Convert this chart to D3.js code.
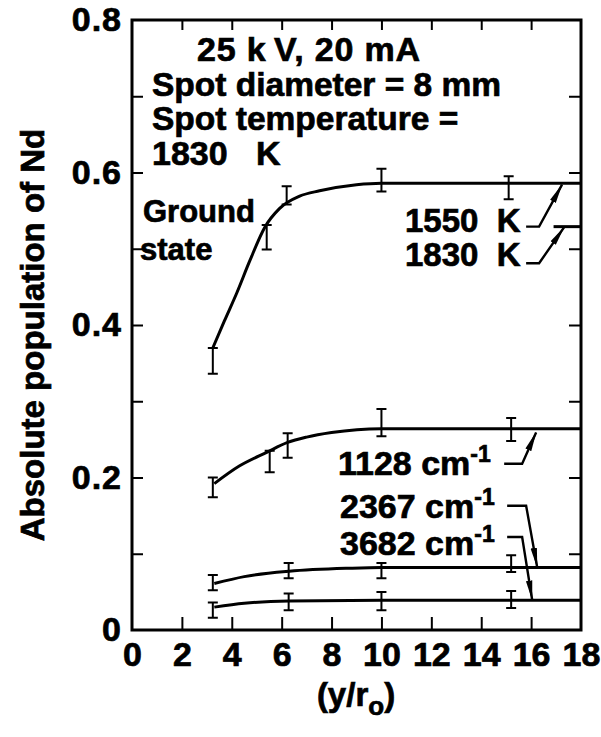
<!DOCTYPE html>
<html>
<head>
<meta charset="utf-8">
<script src="https://cdn.jsdelivr.net/npm/d3@7"></script>
<style>
  html, body { margin: 0; padding: 0; background: #fff; }
  svg { display: block; }
  text { font-family: "Liberation Sans", Arial, sans-serif; font-weight: bold; fill: #000;
         stroke: #000; stroke-width: 0.7px; }
</style>
</head>
<body>
<svg id="chart" width="601" height="737"></svg>
<script>
// ---- axis ticks ----
const xTickValues = [0, 2, 4, 6, 8, 10, 12, 14, 16, 18];
const xFrameTicks = [2, 4, 6, 8, 10, 12, 14, 16];
const yTickValues = [0, 0.1, 0.2, 0.3, 0.4, 0.5, 0.6, 0.7, 0.8];
const yLabelValues = [0, 0.2, 0.4, 0.6, 0.8];

// ---- measured populations with error bars ----
const groundX   = [3.24, 5.4, 6.2, 10, 15.1];
const groundY   = [0.353, 0.515, 0.570, 0.590, 0.580];
const groundErr = [0.017, 0.016, 0.012, 0.015, 0.015];

const lvl1128X   = [3.24, 5.52, 6.24, 10, 15.2];
const lvl1128Y   = [0.187, 0.221, 0.242, 0.272, 0.263];
const lvl1128Err = [0.013, 0.014, 0.016, 0.018, 0.015];

const lvl2367X   = [3.24, 6.28, 10, 15.2];
const lvl2367Y   = [0.062, 0.078, 0.078, 0.087];
const lvl2367Err = [0.010, 0.010, 0.010, 0.011];

const lvl3682X   = [3.24, 6.28, 10, 15.2];
const lvl3682Y   = [0.026, 0.037, 0.038, 0.040];
const lvl3682Err = [0.010, 0.011, 0.012, 0.011];

// ---- smooth fitted curves ----
const groundFitX = [3.24, 3.7, 4.2, 4.72, 5.32, 5.92, 6.72, 7.52, 9, 10, 18];
const groundFitY = [0.370, 0.405, 0.442, 0.484, 0.528, 0.553, 0.569, 0.576, 0.584, 0.586, 0.586];
const fit1128X = [3.3, 4.3, 5.4, 6.24, 7, 8, 10, 18];
const fit1128Y = [0.192, 0.215, 0.233, 0.246, 0.253, 0.259, 0.264, 0.264];
const fit2367X = [3.3, 4.5, 6.3, 8.7, 10, 18];
const fit2367Y = [0.061, 0.070, 0.077, 0.081, 0.082, 0.082];
const fit3682X = [3.3, 4.5, 6.3, 10, 18];
const fit3682Y = [0.030, 0.035, 0.038, 0.039, 0.039];
// short end mark of the 1830 K ground-state curve
const ground1830X = [16.9, 18];
const ground1830Y = [0.529, 0.529];

// ---- annotation arrows (label end, elbow, tip) in data units ----
const arrow1550 = [[15.8, 0.529], [16.32, 0.529], [17.24, 0.584]];
const arrow1830 = [[15.8, 0.481], [16.32, 0.481], [17.32, 0.528]];
const arrow1128 = [[14.92, 0.218], [15.64, 0.218], [16.2, 0.259]];
const arrow2367 = [[15.04, 0.163], [15.8, 0.163], [16.24, 0.083]];
const arrow3682 = [[15.04, 0.122], [15.64, 0.122], [16.04, 0.040]];

const svg = d3.select("#chart");
const plotLeft = 132, plotRight = 581, plotTop = 20, plotBottom = 630;

const x = d3.scaleLinear().domain([0, 18]).range([plotLeft, plotRight]);
const y = d3.scaleLinear().domain([0, 0.8]).range([plotBottom, plotTop]);

// frame
svg.append("rect")
  .attr("x", plotLeft).attr("y", plotTop)
  .attr("width", plotRight - plotLeft).attr("height", plotBottom - plotTop)
  .attr("fill", "none").attr("stroke", "#000").attr("stroke-width", 3);

// inward ticks on all four sides
const fmtY = d => (Math.round(d * 10) % 2 === 0) ? (d === 0 ? "0" : d3.format(".1f")(d)) : "";
const gL = svg.append("g").attr("transform", `translate(${plotLeft},0)`)
  .call(d3.axisLeft(y).tickValues(yTickValues).tickSize(-11).tickPadding(10).tickFormat(fmtY));
const gR = svg.append("g").attr("transform", `translate(${plotRight},0)`)
  .call(d3.axisRight(y).tickValues(yTickValues.slice(1, -1)).tickSize(-12).tickFormat(""));
const gB = svg.append("g").attr("transform", `translate(0,${plotBottom})`)
  .call(d3.axisBottom(x).tickValues(xTickValues).tickSize(-13).tickPadding(12).tickFormat(d3.format("d")));
const gT = svg.append("g").attr("transform", `translate(0,${plotTop})`)
  .call(d3.axisTop(x).tickValues(xFrameTicks).tickSize(-10).tickFormat(""));

[gL, gR, gB, gT].forEach(g => {
  g.select(".domain").remove();
  g.selectAll(".tick line").attr("stroke", "#000").attr("stroke-width", 2);
});
gB.selectAll(".tick").filter(d => d === 0 || d === 18).select("line").remove();
gL.selectAll(".tick").filter(d => d === 0 || d === 0.8).select("line").remove();
[gL, gB].forEach(g => g.selectAll("text")
  .style("font-size", "34px").style("font-family", "'Liberation Sans', Arial, sans-serif")
  .style("font-weight", "bold").attr("stroke", "#000").attr("stroke-width", 0.8));
gL.selectAll("text").attr("letter-spacing", "1");

// axis titles
svg.append("text")
  .attr("transform", `translate(44,335) rotate(-90)`)
  .attr("text-anchor", "middle")
  .style("font-size", "33px")
  .text("Absolute population of Nd");

const xt = svg.append("text").attr("x", 356).attr("y", 706).attr("text-anchor", "middle").style("font-size", "33px");
xt.append("tspan").text("(y/r");
xt.append("tspan").attr("dy", 9).style("font-size", "26px").text("o");
xt.append("tspan").attr("dy", -9).text(")");

// fitted curves
const line = d3.line().x(d => x(d[0])).y(d => y(d[1])).curve(d3.curveMonotoneX);
const zip = (a, b) => a.map((v, i) => [v, b[i]]);
const curves = [
  zip(groundFitX, groundFitY),
  zip(fit1128X, fit1128Y),
  zip(fit2367X, fit2367Y),
  zip(fit3682X, fit3682Y),
  zip(ground1830X, ground1830Y)
];
svg.append("g").selectAll("path").data(curves).join("path")
  .attr("d", line)
  .attr("fill", "none").attr("stroke", "#000").attr("stroke-width", 3);

// error bars
const series = [
  [groundX, groundY, groundErr],
  [lvl1128X, lvl1128Y, lvl1128Err],
  [lvl2367X, lvl2367Y, lvl2367Err],
  [lvl3682X, lvl3682Y, lvl3682Err]
];
const bars = series.flatMap(([xs, ys, es]) => xs.map((v, i) => ({ x: v, lo: ys[i] - es[i], hi: ys[i] + es[i] })));
const eb = svg.append("g").attr("stroke", "#000").attr("stroke-width", 2).attr("fill", "none");
eb.selectAll("path").data(bars).join("path")
  .attr("d", d => {
    const cx = x(d.x), y0 = y(d.lo), y1 = y(d.hi), w = 5;
    return `M${cx},${y0}V${y1}M${cx - w},${y0}H${cx + w}M${cx - w},${y1}H${cx + w}`;
  });

// arrows
const defs = svg.append("defs");
defs.append("marker")
  .attr("id", "head").attr("viewBox", "0 0 20 8")
  .attr("refX", 19).attr("refY", 4)
  .attr("markerWidth", 20).attr("markerHeight", 8)
  .attr("markerUnits", "userSpaceOnUse")
  .attr("orient", "auto")
  .append("path").attr("d", "M0,0.8L20,4L0,7.2Z").attr("fill", "#000");

const arrowLine = d3.line().x(d => x(d[0])).y(d => y(d[1]));
svg.append("g").selectAll("path")
  .data([arrow1550, arrow1830, arrow1128, arrow2367, arrow3682]).join("path")
  .attr("d", arrowLine)
  .attr("fill", "none").attr("stroke", "#000").attr("stroke-width", 2.4)
  .attr("marker-end", "url(#head)");

// annotation text
const note = (tx, ty, str, size, spacing) => svg.append("text").attr("x", tx).attr("y", ty)
  .style("font-size", (size || 33) + "px")
  .attr("letter-spacing", spacing || 0)
  .text(str);
note(197, 61, "25 k\u2009V, 20 mA", 34, 0.8);
note(152, 96, "Spot diameter = 8 mm", 33.5);
note(152, 130, "Spot temperature =", 33.5);
note(152, 165, "1830\u00a0\u00a0 K", 34);
note(143, 222, "Ground", 31);
note(140, 260, "state", 31);
note(405, 232, "1550\u00a0 K", 33);
note(405, 266, "1830\u00a0 K", 33);

const wave = (tx, ty, num) => {
  const t = svg.append("text").attr("x", tx).attr("y", ty).style("font-size", "34px");
  t.append("tspan").text(num + " cm");
  t.append("tspan").attr("dy", -13).style("font-size", "23px").text("-1");
};
wave(338, 475, "1128");
wave(340, 518, "2367");
wave(340, 555, "3682");
</script>
</body>
</html>
